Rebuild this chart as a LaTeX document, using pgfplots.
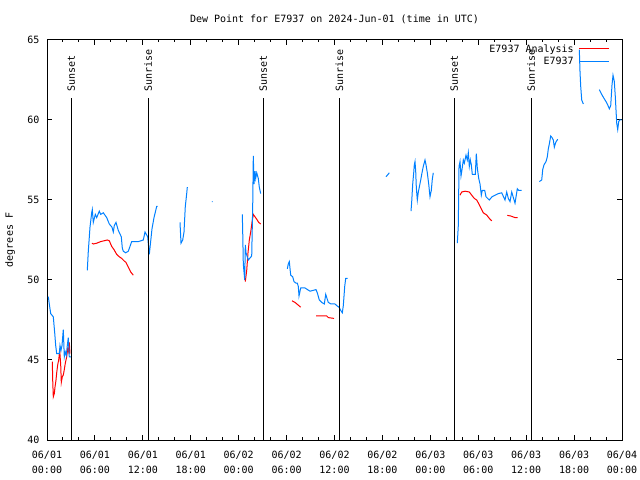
\documentclass[border=0pt]{standalone}
\usepackage{pgfplots}
\usepackage{pgfplotstable}
\pgfplotsset{compat=1.18}
\usepackage{fontspec}
\setmainfont{DejaVu Sans Mono}
\definecolor{gblue}{RGB}{0,128,255}
\definecolor{gred}{RGB}{255,0,0}

\pgfplotstableread{
x y
0.664 44.9
0.714 43.75
0.789 42.7
0.914 42.9
1.002 43.3
1.127 43.75
1.215 44.2
1.34 44.7
1.465 45.0
1.59 45.6
1.716 44.7
1.791 43.6
1.916 43.95
2.041 44.06
2.166 44.4
2.292 44.8
2.467 45.2
2.592 45.7
2.717 45.5
2.792 46.1
2.88 45.4
nan nan
5.635 52.3
5.798 52.25
6.224 52.3
6.724 52.4
7.138 52.45
7.551 52.5
7.801 52.45
8.102 52.1
8.39 51.9
8.728 51.6
9.053 51.45
9.354 51.35
9.642 51.2
9.892 51.1
10.18 50.8
10.481 50.5
10.807 50.3
nan nan
12.62 49.3
12.75 49.3
nan nan
24.832 49.9
25.007 50.6
25.17 51.7
25.333 52.5
25.508 53.0
25.671 53.6
25.833 54.1
26.259 53.8
26.51 53.6
26.76 53.5
nan nan
30.68 48.7
31.055 48.6
31.769 48.3
nan nan
33.684 47.75
35.024 47.75
35.225 47.65
35.939 47.6
nan nan
51.716 55.3
51.93 55.5
52.343 55.55
52.88 55.5
53.181 55.3
53.507 55.1
53.807 55.0
54.133 54.7
54.434 54.4
54.634 54.2
55.06 54.06
55.385 53.85
55.686 53.7
nan nan
57.639 54.04
58.065 54.0
58.603 53.9
58.941 53.9
}\reddata

\pgfplotstableread{
x y
0.163 48.96
0.288 48.5
0.463 47.9
0.789 47.7
0.964 46.7
1.089 45.9
1.215 45.4
1.54 45.4
1.628 45.9
1.753 45.6
1.878 45.9
2.04 46.9
2.166 45.2
2.29 45.5
2.417 45.3
2.54 45.9
2.667 46.4
2.79 45.2
3.04 45.2
nan nan
5.046 50.6
5.172 51.8
5.384 53.3
5.597 54.2
5.673 54.4
5.798 53.6
6.048 54.1
6.224 53.9
6.549 54.3
6.724 54.1
7.05 54.2
7.476 53.9
7.801 53.5
8.139 53.3
8.302 53.0
8.427 53.4
8.64 53.6
8.928 53.1
9.304 52.7
9.429 52.0
9.554 51.8
9.855 51.7
10.18 51.8
10.606 52.4
11.433 52.4
12.059 52.5
12.272 53.0
12.61 52.7
12.81 51.6
13.148 53.2
13.399 53.9
13.737 54.6
13.862 54.6
nan nan
16.654 53.6
16.78 52.3
16.993 52.5
17.155 53.0
17.318 54.6
17.493 55.4
17.568 55.8
nan nan
20.65 54.9
20.75 54.9
nan nan
24.456 54.1
24.506 53.0
24.581 51.0
24.757 50.0
24.832 52.2
24.92 51.7
25.207 51.25
25.633 51.5
25.758 54.6
25.833 57.75
25.92 56.0
26.046 56.8
26.134 56.35
26.259 56.7
26.459 56.35
26.584 55.8
26.76 55.4
nan nan
30.09 50.7
30.215 51.0
30.34 51.15
30.516 50.3
30.766 50.2
30.93 49.9
31.18 49.8
31.344 49.8
31.469 49.6
31.556 49.0
31.769 49.5
32.307 49.5
32.933 49.3
33.684 49.4
33.847 49.2
34.097 48.75
34.398 48.6
34.724 48.5
34.899 49.1
35.225 48.6
35.563 48.5
36.064 48.5
36.277 48.4
36.565 48.3
36.778 48.1
36.978 47.95
37.104 48.4
37.279 49.6
37.404 50.1
37.655 50.1
nan nan
42.45 56.45
42.864 56.7
nan nan
45.58 54.3
45.668 54.9
45.793 56.0
45.918 56.7
45.993 57.2
46.081 57.4
46.168 56.8
46.243 55.8
46.369 55.0
46.494 55.5
46.619 55.8
46.795 56.25
46.958 56.7
47.12 57.1
47.333 57.5
47.458 57.2
47.621 56.7
47.796 56.0
47.959 55.2
48.122 55.6
48.247 56.3
48.372 56.7
nan nan
51.378 52.3
51.503 53.4
51.591 57.1
51.716 57.4
51.841 56.5
51.966 56.9
52.129 57.5
52.254 57.3
52.467 57.8
52.63 57.5
52.755 57.95
52.88 57.1
53.006 57.5
53.131 57.2
53.256 56.6
53.632 56.6
53.757 57.9
53.882 57.0
54.058 56.35
54.221 56.0
54.384 55.3
54.509 55.6
54.809 55.6
54.972 55.2
55.385 55.0
55.723 55.2
56.099 55.3
56.512 55.4
56.938 55.45
57.351 55.0
57.564 55.5
57.764 55.1
57.977 54.9
58.19 55.5
58.603 54.8
58.891 55.7
59.066 55.6
59.442 55.6
nan nan
61.646 56.15
61.947 56.25
62.072 56.9
62.235 57.2
62.485 57.4
62.648 57.7
62.773 58.2
62.898 58.5
63.074 59.0
63.237 58.9
63.4 58.75
63.525 58.3
63.701 58.6
63.951 58.8
nan nan
66.655 64.4
66.743 63.0
66.83 62.1
66.956 61.25
67.156 61.0
nan nan
69.16 61.9
69.46 61.6
69.748 61.35
69.998 61.15
70.249 60.9
70.412 60.7
70.587 60.9
70.75 62.2
70.875 62.8
71.038 62.4
71.163 61.45
71.251 60.6
71.339 59.8
71.464 59.4
71.589 59.9
71.714 60.0
71.965 60.0
}\bluedata

\begin{document}%
\fontsize{10bp}{12bp}\selectfont%
\begin{tikzpicture}
\begin{axis}[
  scale only axis,
  width=575bp, height=400bp,
  xmin=0, xmax=72, ymin=40, ymax=65,
  axis line style={black, line width=1bp},
  tick style={black, line width=1bp},
  tick align=inside,
  major tick length=5bp,
  minor tick length=2.5bp,
  xtick={0,6,...,72},
  minor x tick num=2,
  ytick={40,45,50,55,60,65},
  yticklabels={40,45,50,55,60,65},
  xticklabels={{06/01\\00:00},{06/01\\06:00},{06/01\\12:00},{06/01\\18:00},{06/02\\00:00},{06/02\\06:00},{06/02\\12:00},{06/02\\18:00},{06/03\\00:00},{06/03\\06:00},{06/03\\12:00},{06/03\\18:00},{06/04\\00:00}},
  xticklabel style={align=center, font=\fontsize{10bp}{15bp}\selectfont, yshift=-7.5bp},
  yticklabel style={xshift=-4bp},
  ylabel={degrees F},
  ylabel style={at={(axis description cs:-0.0643,0.5)}, rotate=0, anchor=center},
  title={Dew Point for E7937 on 2024-Jun-01 (time in UTC)},
  title style={at={(axis description cs:0.5,1.0375)}, anchor=center},
  unbounded coords=jump,
  legend style={at={(axis description cs:0.979,0.992)}, anchor=north east, draw=none, fill=none, inner sep=0pt, /tikz/row sep=1.5bp, /tikz/column sep=4bp, nodes={inner sep=1bp}},
  legend cell align=right,
  legend plot pos=right,
  legend image code/.code={\draw[#1] (0bp,0bp) -- (30bp,0bp);},
]
\addplot[gred, line width=1bp] table[x=x,y=y] {\reddata};
\addlegendentry{E7937 Analysis}
\addplot[gblue, line width=1bp] table[x=x,y=y] {\bluedata};
\addlegendentry{E7937}

\addplot[black, line width=1bp, forget plot] coordinates {(3.04,40) (3.04,61.4)};
\addplot[black, line width=1bp, forget plot] coordinates {(12.68,40) (12.68,61.4)};
\addplot[black, line width=1bp, forget plot] coordinates {(27.09,40) (27.09,61.4)};
\addplot[black, line width=1bp, forget plot] coordinates {(36.6,40) (36.6,61.4)};
\addplot[black, line width=1bp, forget plot] coordinates {(51.0,40) (51.0,61.4)};
\addplot[black, line width=1bp, forget plot] coordinates {(60.62,40) (60.62,61.4)};
\node[rotate=90, anchor=west, inner sep=0pt] at (axis cs:3.04,61.75) {Sunset};
\node[rotate=90, anchor=west, inner sep=0pt] at (axis cs:12.68,61.75) {Sunrise};
\node[rotate=90, anchor=west, inner sep=0pt] at (axis cs:27.09,61.75) {Sunset};
\node[rotate=90, anchor=west, inner sep=0pt] at (axis cs:36.6,61.75) {Sunrise};
\node[rotate=90, anchor=west, inner sep=0pt] at (axis cs:51.0,61.75) {Sunset};
\node[rotate=90, anchor=west, inner sep=0pt] at (axis cs:60.62,61.75) {Sunrise};
\end{axis}
\pgfresetboundingbox
\path (-47bp,-40bp) rectangle (593bp,440bp);
\end{tikzpicture}%
\end{document}
